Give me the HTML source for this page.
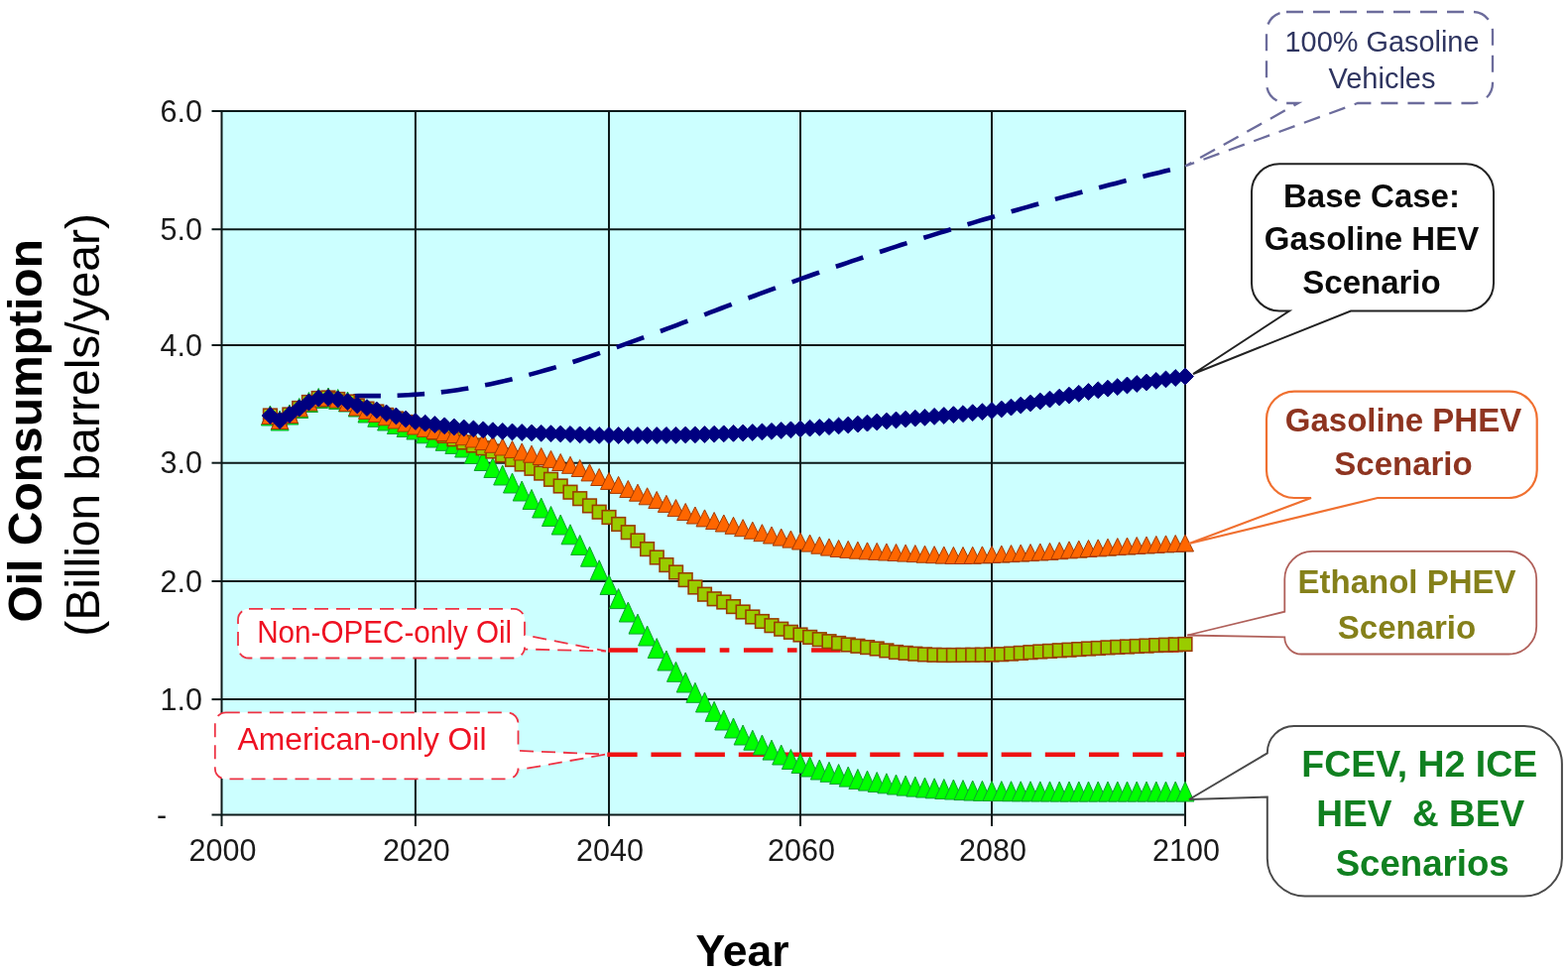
<!DOCTYPE html>
<html><head><meta charset="utf-8"><title>Oil Consumption Scenarios</title>
<style>html,body{margin:0;padding:0;background:#fff;} svg{display:block;}</style>
</head><body>
<svg width="1581" height="982" viewBox="0 0 1581 982">
<rect x="0" y="0" width="1581" height="982" fill="#ffffff"/>
<g>
<rect x="223.5" y="112.0" width="971.5" height="709.5" fill="#ccffff"/>
<line x1="418.9" y1="112.0" x2="418.9" y2="821.5" stroke="#0d1a1a" stroke-width="2"/>
<line x1="614.0" y1="112.0" x2="614.0" y2="821.5" stroke="#0d1a1a" stroke-width="2"/>
<line x1="807.0" y1="112.0" x2="807.0" y2="821.5" stroke="#0d1a1a" stroke-width="2"/>
<line x1="1000.0" y1="112.0" x2="1000.0" y2="821.5" stroke="#0d1a1a" stroke-width="2"/>
<line x1="223.5" y1="231.2" x2="1195.0" y2="231.2" stroke="#0d1a1a" stroke-width="2"/>
<line x1="223.5" y1="348.0" x2="1195.0" y2="348.0" stroke="#0d1a1a" stroke-width="2"/>
<line x1="223.5" y1="466.7" x2="1195.0" y2="466.7" stroke="#0d1a1a" stroke-width="2"/>
<line x1="223.5" y1="586.0" x2="1195.0" y2="586.0" stroke="#0d1a1a" stroke-width="2"/>
<line x1="223.5" y1="705.1" x2="1195.0" y2="705.1" stroke="#0d1a1a" stroke-width="2"/>
<rect x="223.5" y="112.0" width="971.5" height="709.5" fill="none" stroke="#0d1a1a" stroke-width="2"/>
<line x1="213.5" y1="112.0" x2="223.5" y2="112.0" stroke="#0d1a1a" stroke-width="2"/>
<line x1="213.5" y1="231.2" x2="223.5" y2="231.2" stroke="#0d1a1a" stroke-width="2"/>
<line x1="213.5" y1="348.0" x2="223.5" y2="348.0" stroke="#0d1a1a" stroke-width="2"/>
<line x1="213.5" y1="466.7" x2="223.5" y2="466.7" stroke="#0d1a1a" stroke-width="2"/>
<line x1="213.5" y1="586.0" x2="223.5" y2="586.0" stroke="#0d1a1a" stroke-width="2"/>
<line x1="213.5" y1="705.1" x2="223.5" y2="705.1" stroke="#0d1a1a" stroke-width="2"/>
<line x1="213.5" y1="821.5" x2="223.5" y2="821.5" stroke="#0d1a1a" stroke-width="2"/>
<line x1="223.5" y1="821.5" x2="223.5" y2="833" stroke="#0d1a1a" stroke-width="2"/>
<line x1="418.9" y1="821.5" x2="418.9" y2="833" stroke="#0d1a1a" stroke-width="2"/>
<line x1="614.0" y1="821.5" x2="614.0" y2="833" stroke="#0d1a1a" stroke-width="2"/>
<line x1="807.0" y1="821.5" x2="807.0" y2="833" stroke="#0d1a1a" stroke-width="2"/>
<line x1="1000.0" y1="821.5" x2="1000.0" y2="833" stroke="#0d1a1a" stroke-width="2"/>
<line x1="1195.0" y1="821.5" x2="1195.0" y2="833" stroke="#0d1a1a" stroke-width="2"/>
<text x="204" y="122.5" font-family="Liberation Sans, Arial, sans-serif" font-size="30.5" text-anchor="end" fill="#1a1a1a">6.0</text>
<text x="204" y="241.7" font-family="Liberation Sans, Arial, sans-serif" font-size="30.5" text-anchor="end" fill="#1a1a1a">5.0</text>
<text x="204" y="358.5" font-family="Liberation Sans, Arial, sans-serif" font-size="30.5" text-anchor="end" fill="#1a1a1a">4.0</text>
<text x="204" y="477.2" font-family="Liberation Sans, Arial, sans-serif" font-size="30.5" text-anchor="end" fill="#1a1a1a">3.0</text>
<text x="204" y="596.5" font-family="Liberation Sans, Arial, sans-serif" font-size="30.5" text-anchor="end" fill="#1a1a1a">2.0</text>
<text x="204" y="715.6" font-family="Liberation Sans, Arial, sans-serif" font-size="30.5" text-anchor="end" fill="#1a1a1a">1.0</text>
<text x="158" y="832.0" font-family="Liberation Sans, Arial, sans-serif" font-size="30.5" fill="#1a1a1a">-</text>
<text x="224.5" y="868" font-family="Liberation Sans, Arial, sans-serif" font-size="30.5" text-anchor="middle" fill="#1a1a1a">2000</text>
<text x="419.9" y="868" font-family="Liberation Sans, Arial, sans-serif" font-size="30.5" text-anchor="middle" fill="#1a1a1a">2020</text>
<text x="615.0" y="868" font-family="Liberation Sans, Arial, sans-serif" font-size="30.5" text-anchor="middle" fill="#1a1a1a">2040</text>
<text x="808.0" y="868" font-family="Liberation Sans, Arial, sans-serif" font-size="30.5" text-anchor="middle" fill="#1a1a1a">2060</text>
<text x="1001.0" y="868" font-family="Liberation Sans, Arial, sans-serif" font-size="30.5" text-anchor="middle" fill="#1a1a1a">2080</text>
<text x="1196.0" y="868" font-family="Liberation Sans, Arial, sans-serif" font-size="30.5" text-anchor="middle" fill="#1a1a1a">2100</text>
<line x1="613.5" y1="655.5" x2="1195" y2="655.5" stroke="#ee1111" stroke-width="4.5" stroke-dasharray="29.5 14.5 9.7 14.5"/>
<line x1="612.3" y1="760.8" x2="1195" y2="760.8" stroke="#ee1111" stroke-width="4.5" stroke-dasharray="30.3 13.85"/>
<path d="M356.4,399.2 L361.9,399.1 L367.4,399.1 L372.9,399.1 L378.4,399.1 L383.9,399.1 M400.6,398.7 L406.1,398.5 L411.6,398.2 L417.1,397.9 L422.6,397.5 L428.1,397.1 M444.8,395.4 L450.3,394.7 L455.8,394.0 L461.3,393.2 L466.8,392.3 L472.3,391.4 M489.1,388.3 L494.6,387.2 L500.1,386.0 L505.6,384.8 L511.1,383.5 L516.6,382.2 M533.3,377.9 L538.8,376.4 L544.3,374.9 L549.8,373.3 L555.3,371.7 L560.8,370.1 M577.5,365.0 L583.0,363.2 L588.5,361.4 L594.0,359.6 L599.5,357.8 L605.0,355.9 M621.7,350.1 L627.2,348.2 L632.7,346.2 L638.2,344.2 L643.7,342.2 L649.2,340.2 M665.9,334.0 L671.4,331.9 L676.9,329.9 L682.4,327.8 L687.9,325.7 L693.4,323.6 M710.2,317.3 L715.7,315.2 L721.2,313.1 L726.7,311.0 L732.2,308.9 L737.7,306.8 M754.4,300.5 L759.9,298.5 L765.4,296.4 L770.9,294.4 L776.4,292.4 L781.9,290.4 M798.6,284.3 L804.1,282.4 L809.6,280.4 L815.1,278.5 L820.6,276.5 L826.1,274.6 M842.8,268.8 L848.3,267.0 L853.8,265.1 L859.3,263.2 L864.8,261.4 L870.3,259.5 M887.0,254.0 L892.5,252.2 L898.0,250.4 L903.5,248.6 L909.0,246.8 L914.5,245.1 M931.3,239.8 L936.8,238.1 L942.3,236.4 L947.8,234.6 L953.3,233.0 L958.8,231.3 M975.5,226.2 L981.0,224.6 L986.5,222.9 L992.0,221.3 L997.5,219.7 L1003.0,218.1 M1019.7,213.3 L1025.2,211.7 L1030.7,210.1 L1036.2,208.6 L1041.7,207.0 L1047.2,205.5 M1063.9,200.9 L1069.4,199.4 L1074.9,197.9 L1080.4,196.5 L1085.9,195.0 L1091.4,193.5 M1108.1,189.2 L1113.6,187.7 L1119.1,186.3 L1124.6,184.9 L1130.1,183.5 L1135.6,182.1 M1152.4,178.0 L1157.9,176.6 L1163.4,175.3 L1168.9,174.0 L1174.4,172.6 L1179.9,171.3" fill="none" stroke="#000080" stroke-width="4.6"/>
<g fill="#00ff00" stroke="#10a030" stroke-width="1">
<path d="M272.4,409.0 L281.4,429.0 L263.4,429.0 Z"/>
<path d="M282.1,414.0 L291.1,434.0 L273.1,434.0 Z"/>
<path d="M291.9,408.0 L300.9,428.0 L282.9,428.0 Z"/>
<path d="M301.7,401.5 L310.7,421.5 L292.7,421.5 Z"/>
<path d="M311.4,395.5 L320.4,415.5 L302.4,415.5 Z"/>
<path d="M321.2,391.5 L330.2,411.5 L312.2,411.5 Z"/>
<path d="M331.0,391.0 L340.0,411.0 L322.0,411.0 Z"/>
<path d="M340.7,392.5 L349.7,412.5 L331.7,412.5 Z"/>
<path d="M350.5,395.0 L359.5,415.0 L341.5,415.0 Z"/>
<path d="M360.3,400.0 L369.3,420.0 L351.3,420.0 Z"/>
<path d="M370.0,406.0 L379.0,426.0 L361.0,426.0 Z"/>
<path d="M379.8,410.3 L388.8,430.3 L370.8,430.3 Z"/>
<path d="M389.6,414.0 L398.6,434.0 L380.6,434.0 Z"/>
<path d="M399.4,417.5 L408.4,437.5 L390.4,437.5 Z"/>
<path d="M409.1,420.5 L418.1,440.5 L400.1,440.5 Z"/>
<path d="M418.9,423.0 L427.9,443.0 L409.9,443.0 Z"/>
<path d="M428.7,426.8 L437.7,446.8 L419.7,446.8 Z"/>
<path d="M438.4,431.0 L447.4,451.0 L429.4,451.0 Z"/>
<path d="M448.2,434.3 L457.2,454.3 L439.2,454.3 Z"/>
<path d="M457.9,437.4 L466.9,457.4 L448.9,457.4 Z"/>
<path d="M467.7,441.0 L476.7,461.0 L458.7,461.0 Z"/>
<path d="M477.4,447.5 L486.4,467.5 L468.4,467.5 Z"/>
<path d="M487.2,454.5 L496.2,474.5 L478.2,474.5 Z"/>
<path d="M496.9,461.5 L505.9,481.5 L487.9,481.5 Z"/>
<path d="M506.7,469.0 L515.7,489.0 L497.7,489.0 Z"/>
<path d="M516.5,477.0 L525.5,497.0 L507.5,497.0 Z"/>
<path d="M526.2,485.0 L535.2,505.0 L517.2,505.0 Z"/>
<path d="M536.0,493.5 L545.0,513.5 L527.0,513.5 Z"/>
<path d="M545.7,502.0 L554.7,522.0 L536.7,522.0 Z"/>
<path d="M555.5,510.5 L564.5,530.5 L546.5,530.5 Z"/>
<path d="M565.2,519.0 L574.2,539.0 L556.2,539.0 Z"/>
<path d="M575.0,528.8 L584.0,548.8 L566.0,548.8 Z"/>
<path d="M584.7,539.5 L593.7,559.5 L575.7,559.5 Z"/>
<path d="M594.5,551.2 L603.5,571.2 L585.5,571.2 Z"/>
<path d="M604.2,564.8 L613.2,584.8 L595.2,584.8 Z"/>
<path d="M614.0,579.5 L623.0,599.5 L605.0,599.5 Z"/>
<path d="M623.6,593.6 L632.6,613.6 L614.6,613.6 Z"/>
<path d="M633.3,607.0 L642.3,627.0 L624.3,627.0 Z"/>
<path d="M643.0,619.1 L652.0,639.1 L634.0,639.1 Z"/>
<path d="M652.6,631.0 L661.6,651.0 L643.6,651.0 Z"/>
<path d="M662.2,643.6 L671.2,663.6 L653.2,663.6 Z"/>
<path d="M671.9,656.0 L680.9,676.0 L662.9,676.0 Z"/>
<path d="M681.5,667.3 L690.5,687.3 L672.5,687.3 Z"/>
<path d="M691.2,678.0 L700.2,698.0 L682.2,698.0 Z"/>
<path d="M700.9,688.3 L709.9,708.3 L691.9,708.3 Z"/>
<path d="M710.5,698.0 L719.5,718.0 L701.5,718.0 Z"/>
<path d="M720.1,707.3 L729.1,727.3 L711.1,727.3 Z"/>
<path d="M729.8,716.0 L738.8,736.0 L720.8,736.0 Z"/>
<path d="M739.5,724.0 L748.5,744.0 L730.5,744.0 Z"/>
<path d="M749.1,731.0 L758.1,751.0 L740.1,751.0 Z"/>
<path d="M758.8,736.2 L767.8,756.2 L749.8,756.2 Z"/>
<path d="M768.4,741.0 L777.4,761.0 L759.4,761.0 Z"/>
<path d="M778.0,746.1 L787.0,766.1 L769.0,766.1 Z"/>
<path d="M787.7,751.0 L796.7,771.0 L778.7,771.0 Z"/>
<path d="M797.4,755.5 L806.4,775.5 L788.4,775.5 Z"/>
<path d="M807.0,759.5 L816.0,779.5 L798.0,779.5 Z"/>
<path d="M816.6,763.0 L825.6,783.0 L807.6,783.0 Z"/>
<path d="M826.3,766.0 L835.3,786.0 L817.3,786.0 Z"/>
<path d="M836.0,768.3 L845.0,788.3 L827.0,788.3 Z"/>
<path d="M845.6,770.5 L854.6,790.5 L836.6,790.5 Z"/>
<path d="M855.2,773.1 L864.2,793.1 L846.2,793.1 Z"/>
<path d="M864.9,775.5 L873.9,795.5 L855.9,795.5 Z"/>
<path d="M874.5,777.1 L883.5,797.1 L865.5,797.1 Z"/>
<path d="M884.2,778.5 L893.2,798.5 L875.2,798.5 Z"/>
<path d="M893.9,779.8 L902.9,799.8 L884.9,799.8 Z"/>
<path d="M903.5,781.0 L912.5,801.0 L894.5,801.0 Z"/>
<path d="M913.1,782.1 L922.1,802.1 L904.1,802.1 Z"/>
<path d="M922.8,783.1 L931.8,803.1 L913.8,803.1 Z"/>
<path d="M932.5,784.0 L941.5,804.0 L923.5,804.0 Z"/>
<path d="M942.1,784.8 L951.1,804.8 L933.1,804.8 Z"/>
<path d="M951.8,785.5 L960.8,805.5 L942.8,805.5 Z"/>
<path d="M961.4,786.0 L970.4,806.0 L952.4,806.0 Z"/>
<path d="M971.0,786.6 L980.0,806.6 L962.0,806.6 Z"/>
<path d="M980.7,787.0 L989.7,807.0 L971.7,807.0 Z"/>
<path d="M990.4,787.3 L999.4,807.3 L981.4,807.3 Z"/>
<path d="M1000.0,787.5 L1009.0,807.5 L991.0,807.5 Z"/>
<path d="M1009.8,787.6 L1018.8,807.6 L1000.8,807.6 Z"/>
<path d="M1019.5,787.7 L1028.5,807.7 L1010.5,807.7 Z"/>
<path d="M1029.2,787.8 L1038.2,807.8 L1020.2,807.8 Z"/>
<path d="M1039.0,787.8 L1048.0,807.8 L1030.0,807.8 Z"/>
<path d="M1048.8,787.9 L1057.8,807.9 L1039.8,807.9 Z"/>
<path d="M1058.5,787.9 L1067.5,807.9 L1049.5,807.9 Z"/>
<path d="M1068.2,788.0 L1077.2,808.0 L1059.2,808.0 Z"/>
<path d="M1078.0,788.0 L1087.0,808.0 L1069.0,808.0 Z"/>
<path d="M1087.8,788.0 L1096.8,808.0 L1078.8,808.0 Z"/>
<path d="M1097.5,788.0 L1106.5,808.0 L1088.5,808.0 Z"/>
<path d="M1107.2,788.0 L1116.2,808.0 L1098.2,808.0 Z"/>
<path d="M1117.0,788.0 L1126.0,808.0 L1108.0,808.0 Z"/>
<path d="M1126.8,788.0 L1135.8,808.0 L1117.8,808.0 Z"/>
<path d="M1136.5,788.0 L1145.5,808.0 L1127.5,808.0 Z"/>
<path d="M1146.2,788.0 L1155.2,808.0 L1137.2,808.0 Z"/>
<path d="M1156.0,788.0 L1165.0,808.0 L1147.0,808.0 Z"/>
<path d="M1165.8,788.0 L1174.8,808.0 L1156.8,808.0 Z"/>
<path d="M1175.5,788.0 L1184.5,808.0 L1166.5,808.0 Z"/>
<path d="M1185.2,788.0 L1194.2,808.0 L1176.2,808.0 Z"/>
<path d="M1195.0,788.0 L1204.0,808.0 L1186.0,808.0 Z"/>
</g>
<g fill="#99cc00" stroke="#9a3c00" stroke-width="1.6">
<rect x="265.6" y="412.2" width="13.6" height="13.6"/>
<rect x="275.3" y="417.2" width="13.6" height="13.6"/>
<rect x="285.1" y="411.2" width="13.6" height="13.6"/>
<rect x="294.9" y="404.7" width="13.6" height="13.6"/>
<rect x="304.6" y="398.7" width="13.6" height="13.6"/>
<rect x="314.4" y="394.7" width="13.6" height="13.6"/>
<rect x="324.2" y="394.2" width="13.6" height="13.6"/>
<rect x="333.9" y="395.7" width="13.6" height="13.6"/>
<rect x="343.7" y="398.2" width="13.6" height="13.6"/>
<rect x="353.5" y="402.2" width="13.6" height="13.6"/>
<rect x="363.2" y="405.3" width="13.6" height="13.6"/>
<rect x="373.0" y="408.2" width="13.6" height="13.6"/>
<rect x="382.8" y="411.6" width="13.6" height="13.6"/>
<rect x="392.6" y="415.2" width="13.6" height="13.6"/>
<rect x="402.3" y="418.7" width="13.6" height="13.6"/>
<rect x="412.1" y="422.2" width="13.6" height="13.6"/>
<rect x="421.9" y="425.7" width="13.6" height="13.6"/>
<rect x="431.6" y="429.2" width="13.6" height="13.6"/>
<rect x="441.4" y="432.6" width="13.6" height="13.6"/>
<rect x="451.1" y="436.0" width="13.6" height="13.6"/>
<rect x="460.9" y="439.2" width="13.6" height="13.6"/>
<rect x="470.6" y="442.2" width="13.6" height="13.6"/>
<rect x="480.4" y="445.0" width="13.6" height="13.6"/>
<rect x="490.1" y="448.2" width="13.6" height="13.6"/>
<rect x="499.9" y="452.1" width="13.6" height="13.6"/>
<rect x="509.7" y="456.5" width="13.6" height="13.6"/>
<rect x="519.4" y="461.2" width="13.6" height="13.6"/>
<rect x="529.2" y="465.5" width="13.6" height="13.6"/>
<rect x="538.9" y="470.3" width="13.6" height="13.6"/>
<rect x="548.7" y="476.5" width="13.6" height="13.6"/>
<rect x="558.4" y="483.2" width="13.6" height="13.6"/>
<rect x="568.2" y="489.4" width="13.6" height="13.6"/>
<rect x="577.9" y="495.9" width="13.6" height="13.6"/>
<rect x="587.7" y="503.1" width="13.6" height="13.6"/>
<rect x="597.4" y="509.4" width="13.6" height="13.6"/>
<rect x="607.2" y="514.7" width="13.6" height="13.6"/>
<rect x="616.9" y="521.7" width="13.6" height="13.6"/>
<rect x="626.5" y="529.9" width="13.6" height="13.6"/>
<rect x="636.2" y="538.2" width="13.6" height="13.6"/>
<rect x="645.8" y="546.8" width="13.6" height="13.6"/>
<rect x="655.5" y="555.2" width="13.6" height="13.6"/>
<rect x="665.1" y="562.8" width="13.6" height="13.6"/>
<rect x="674.8" y="570.2" width="13.6" height="13.6"/>
<rect x="684.4" y="577.8" width="13.6" height="13.6"/>
<rect x="694.1" y="585.2" width="13.6" height="13.6"/>
<rect x="703.7" y="592.4" width="13.6" height="13.6"/>
<rect x="713.4" y="597.0" width="13.6" height="13.6"/>
<rect x="723.0" y="600.2" width="13.6" height="13.6"/>
<rect x="732.7" y="604.8" width="13.6" height="13.6"/>
<rect x="742.3" y="610.2" width="13.6" height="13.6"/>
<rect x="752.0" y="615.2" width="13.6" height="13.6"/>
<rect x="761.6" y="619.7" width="13.6" height="13.6"/>
<rect x="771.2" y="623.9" width="13.6" height="13.6"/>
<rect x="780.9" y="627.4" width="13.6" height="13.6"/>
<rect x="790.6" y="630.5" width="13.6" height="13.6"/>
<rect x="800.2" y="633.2" width="13.6" height="13.6"/>
<rect x="809.9" y="635.6" width="13.6" height="13.6"/>
<rect x="819.5" y="637.9" width="13.6" height="13.6"/>
<rect x="829.2" y="639.9" width="13.6" height="13.6"/>
<rect x="838.8" y="641.7" width="13.6" height="13.6"/>
<rect x="848.5" y="643.2" width="13.6" height="13.6"/>
<rect x="858.1" y="644.5" width="13.6" height="13.6"/>
<rect x="867.8" y="645.8" width="13.6" height="13.6"/>
<rect x="877.4" y="647.2" width="13.6" height="13.6"/>
<rect x="887.1" y="649.1" width="13.6" height="13.6"/>
<rect x="896.7" y="650.7" width="13.6" height="13.6"/>
<rect x="906.4" y="651.6" width="13.6" height="13.6"/>
<rect x="916.0" y="652.4" width="13.6" height="13.6"/>
<rect x="925.7" y="653.1" width="13.6" height="13.6"/>
<rect x="935.3" y="653.5" width="13.6" height="13.6"/>
<rect x="945.0" y="653.7" width="13.6" height="13.6"/>
<rect x="954.6" y="653.7" width="13.6" height="13.6"/>
<rect x="964.2" y="653.6" width="13.6" height="13.6"/>
<rect x="973.9" y="653.5" width="13.6" height="13.6"/>
<rect x="983.6" y="653.4" width="13.6" height="13.6"/>
<rect x="993.2" y="653.2" width="13.6" height="13.6"/>
<rect x="1003.0" y="652.9" width="13.6" height="13.6"/>
<rect x="1012.7" y="652.3" width="13.6" height="13.6"/>
<rect x="1022.5" y="651.6" width="13.6" height="13.6"/>
<rect x="1032.2" y="650.9" width="13.6" height="13.6"/>
<rect x="1042.0" y="650.2" width="13.6" height="13.6"/>
<rect x="1051.7" y="649.6" width="13.6" height="13.6"/>
<rect x="1061.5" y="649.0" width="13.6" height="13.6"/>
<rect x="1071.2" y="648.4" width="13.6" height="13.6"/>
<rect x="1081.0" y="647.8" width="13.6" height="13.6"/>
<rect x="1090.7" y="647.2" width="13.6" height="13.6"/>
<rect x="1100.5" y="646.7" width="13.6" height="13.6"/>
<rect x="1110.2" y="646.1" width="13.6" height="13.6"/>
<rect x="1120.0" y="645.6" width="13.6" height="13.6"/>
<rect x="1129.7" y="645.2" width="13.6" height="13.6"/>
<rect x="1139.5" y="644.7" width="13.6" height="13.6"/>
<rect x="1149.2" y="644.3" width="13.6" height="13.6"/>
<rect x="1159.0" y="643.8" width="13.6" height="13.6"/>
<rect x="1168.7" y="643.4" width="13.6" height="13.6"/>
<rect x="1178.5" y="643.1" width="13.6" height="13.6"/>
<rect x="1188.2" y="642.7" width="13.6" height="13.6"/>
</g>
<g fill="#ff6600" stroke="#a33a00" stroke-width="1">
<path d="M272.4,410.5 L280.9,427.5 L263.9,427.5 Z"/>
<path d="M282.1,415.5 L290.6,432.5 L273.6,432.5 Z"/>
<path d="M291.9,409.5 L300.4,426.5 L283.4,426.5 Z"/>
<path d="M301.7,403.0 L310.2,420.0 L293.2,420.0 Z"/>
<path d="M311.4,397.0 L319.9,414.0 L302.9,414.0 Z"/>
<path d="M321.2,393.0 L329.7,410.0 L312.7,410.0 Z"/>
<path d="M331.0,392.5 L339.5,409.5 L322.5,409.5 Z"/>
<path d="M340.7,394.0 L349.2,411.0 L332.2,411.0 Z"/>
<path d="M350.5,397.5 L359.0,414.5 L342.0,414.5 Z"/>
<path d="M360.3,402.0 L368.8,419.0 L351.8,419.0 Z"/>
<path d="M370.0,405.4 L378.5,422.4 L361.5,422.4 Z"/>
<path d="M379.8,408.5 L388.3,425.5 L371.3,425.5 Z"/>
<path d="M389.6,411.8 L398.1,428.8 L381.1,428.8 Z"/>
<path d="M399.4,415.0 L407.9,432.0 L390.9,432.0 Z"/>
<path d="M409.1,418.1 L417.6,435.1 L400.6,435.1 Z"/>
<path d="M418.9,421.0 L427.4,438.0 L410.4,438.0 Z"/>
<path d="M428.7,423.4 L437.2,440.4 L420.2,440.4 Z"/>
<path d="M438.4,425.5 L446.9,442.5 L429.9,442.5 Z"/>
<path d="M448.2,427.5 L456.7,444.5 L439.7,444.5 Z"/>
<path d="M457.9,429.5 L466.4,446.5 L449.4,446.5 Z"/>
<path d="M467.7,431.7 L476.2,448.7 L459.2,448.7 Z"/>
<path d="M477.4,434.0 L485.9,451.0 L468.9,451.0 Z"/>
<path d="M487.2,436.6 L495.7,453.6 L478.7,453.6 Z"/>
<path d="M496.9,439.3 L505.4,456.3 L488.4,456.3 Z"/>
<path d="M506.7,442.0 L515.2,459.0 L498.2,459.0 Z"/>
<path d="M516.5,444.6 L525.0,461.6 L508.0,461.6 Z"/>
<path d="M526.2,447.0 L534.7,464.0 L517.7,464.0 Z"/>
<path d="M536.0,449.2 L544.5,466.2 L527.5,466.2 Z"/>
<path d="M545.7,451.5 L554.2,468.5 L537.2,468.5 Z"/>
<path d="M555.5,454.4 L564.0,471.4 L547.0,471.4 Z"/>
<path d="M565.2,457.5 L573.7,474.5 L556.7,474.5 Z"/>
<path d="M575.0,460.3 L583.5,477.3 L566.5,477.3 Z"/>
<path d="M584.7,463.5 L593.2,480.5 L576.2,480.5 Z"/>
<path d="M594.5,467.9 L603.0,484.9 L586.0,484.9 Z"/>
<path d="M604.2,472.5 L612.7,489.5 L595.7,489.5 Z"/>
<path d="M614.0,476.4 L622.5,493.4 L605.5,493.4 Z"/>
<path d="M623.6,480.4 L632.1,497.4 L615.1,497.4 Z"/>
<path d="M633.3,484.5 L641.8,501.5 L624.8,501.5 Z"/>
<path d="M643.0,488.2 L651.5,505.2 L634.5,505.2 Z"/>
<path d="M652.6,491.8 L661.1,508.8 L644.1,508.8 Z"/>
<path d="M662.2,495.5 L670.8,512.5 L653.8,512.5 Z"/>
<path d="M671.9,499.4 L680.4,516.4 L663.4,516.4 Z"/>
<path d="M681.5,503.6 L690.0,520.6 L673.0,520.6 Z"/>
<path d="M691.2,507.5 L699.7,524.5 L682.7,524.5 Z"/>
<path d="M700.9,511.0 L709.4,528.0 L692.4,528.0 Z"/>
<path d="M710.5,513.9 L719.0,530.9 L702.0,530.9 Z"/>
<path d="M720.1,516.5 L728.6,533.5 L711.6,533.5 Z"/>
<path d="M729.8,519.0 L738.3,536.0 L721.3,536.0 Z"/>
<path d="M739.5,521.3 L748.0,538.3 L731.0,538.3 Z"/>
<path d="M749.1,523.7 L757.6,540.7 L740.6,540.7 Z"/>
<path d="M758.8,526.2 L767.2,543.2 L750.2,543.2 Z"/>
<path d="M768.4,528.7 L776.9,545.7 L759.9,545.7 Z"/>
<path d="M778.0,531.0 L786.5,548.0 L769.5,548.0 Z"/>
<path d="M787.7,533.1 L796.2,550.1 L779.2,550.1 Z"/>
<path d="M797.4,535.1 L805.9,552.1 L788.9,552.1 Z"/>
<path d="M807.0,537.0 L815.5,554.0 L798.5,554.0 Z"/>
<path d="M816.6,539.1 L825.1,556.1 L808.1,556.1 Z"/>
<path d="M826.3,541.2 L834.8,558.2 L817.8,558.2 Z"/>
<path d="M836.0,543.1 L844.5,560.1 L827.5,560.1 Z"/>
<path d="M845.6,544.5 L854.1,561.5 L837.1,561.5 Z"/>
<path d="M855.2,545.4 L863.8,562.4 L846.8,562.4 Z"/>
<path d="M864.9,546.2 L873.4,563.2 L856.4,563.2 Z"/>
<path d="M874.5,546.9 L883.0,563.9 L866.0,563.9 Z"/>
<path d="M884.2,547.4 L892.7,564.4 L875.7,564.4 Z"/>
<path d="M893.9,548.0 L902.4,565.0 L885.4,565.0 Z"/>
<path d="M903.5,548.5 L912.0,565.5 L895.0,565.5 Z"/>
<path d="M913.1,549.1 L921.6,566.1 L904.6,566.1 Z"/>
<path d="M922.8,549.6 L931.3,566.6 L914.3,566.6 Z"/>
<path d="M932.5,550.2 L941.0,567.2 L924.0,567.2 Z"/>
<path d="M942.1,550.7 L950.6,567.7 L933.6,567.7 Z"/>
<path d="M951.8,551.1 L960.2,568.1 L943.2,568.1 Z"/>
<path d="M961.4,551.4 L969.9,568.4 L952.9,568.4 Z"/>
<path d="M971.0,551.5 L979.5,568.5 L962.5,568.5 Z"/>
<path d="M980.7,551.3 L989.2,568.3 L972.2,568.3 Z"/>
<path d="M990.4,550.9 L998.9,567.9 L981.9,567.9 Z"/>
<path d="M1000.0,550.5 L1008.5,567.5 L991.5,567.5 Z"/>
<path d="M1009.8,550.1 L1018.2,567.1 L1001.2,567.1 Z"/>
<path d="M1019.5,549.6 L1028.0,566.6 L1011.0,566.6 Z"/>
<path d="M1029.2,549.1 L1037.8,566.1 L1020.8,566.1 Z"/>
<path d="M1039.0,548.6 L1047.5,565.6 L1030.5,565.6 Z"/>
<path d="M1048.8,548.0 L1057.2,565.0 L1040.2,565.0 Z"/>
<path d="M1058.5,547.4 L1067.0,564.4 L1050.0,564.4 Z"/>
<path d="M1068.2,546.7 L1076.8,563.7 L1059.8,563.7 Z"/>
<path d="M1078.0,545.9 L1086.5,562.9 L1069.5,562.9 Z"/>
<path d="M1087.8,545.2 L1096.2,562.2 L1079.2,562.2 Z"/>
<path d="M1097.5,544.5 L1106.0,561.5 L1089.0,561.5 Z"/>
<path d="M1107.2,543.9 L1115.8,560.9 L1098.8,560.9 Z"/>
<path d="M1117.0,543.2 L1125.5,560.2 L1108.5,560.2 Z"/>
<path d="M1126.8,542.6 L1135.2,559.6 L1118.2,559.6 Z"/>
<path d="M1136.5,542.1 L1145.0,559.1 L1128.0,559.1 Z"/>
<path d="M1146.2,541.5 L1154.8,558.5 L1137.8,558.5 Z"/>
<path d="M1156.0,541.0 L1164.5,558.0 L1147.5,558.0 Z"/>
<path d="M1165.8,540.4 L1174.2,557.4 L1157.2,557.4 Z"/>
<path d="M1175.5,539.9 L1184.0,556.9 L1167.0,556.9 Z"/>
<path d="M1185.2,539.5 L1193.8,556.5 L1176.8,556.5 Z"/>
<path d="M1195.0,539.0 L1203.5,556.0 L1186.5,556.0 Z"/>
</g>
<g fill="#000080" stroke="#000080" stroke-width="1">
<path d="M272.4,410.6 L280.8,419.0 L272.4,427.4 L264.0,419.0 Z"/>
<path d="M282.1,415.6 L290.5,424.0 L282.1,432.4 L273.7,424.0 Z"/>
<path d="M291.9,409.6 L300.3,418.0 L291.9,426.4 L283.5,418.0 Z"/>
<path d="M301.7,403.1 L310.1,411.5 L301.7,419.9 L293.3,411.5 Z"/>
<path d="M311.4,397.1 L319.8,405.5 L311.4,413.9 L303.0,405.5 Z"/>
<path d="M321.2,393.1 L329.6,401.5 L321.2,409.9 L312.8,401.5 Z"/>
<path d="M331.0,392.6 L339.4,401.0 L331.0,409.4 L322.6,401.0 Z"/>
<path d="M340.7,394.1 L349.1,402.5 L340.7,410.9 L332.3,402.5 Z"/>
<path d="M350.5,396.6 L358.9,405.0 L350.5,413.4 L342.1,405.0 Z"/>
<path d="M360.3,400.1 L368.7,408.5 L360.3,416.9 L351.9,408.5 Z"/>
<path d="M370.0,402.7 L378.4,411.1 L370.0,419.5 L361.6,411.1 Z"/>
<path d="M379.8,405.1 L388.2,413.5 L379.8,421.9 L371.4,413.5 Z"/>
<path d="M389.6,408.1 L398.0,416.5 L389.6,424.9 L381.2,416.5 Z"/>
<path d="M399.4,411.1 L407.8,419.5 L399.4,427.9 L391.0,419.5 Z"/>
<path d="M409.1,414.1 L417.5,422.5 L409.1,430.9 L400.7,422.5 Z"/>
<path d="M418.9,416.6 L427.3,425.0 L418.9,433.4 L410.5,425.0 Z"/>
<path d="M428.7,418.3 L437.1,426.7 L428.7,435.1 L420.3,426.7 Z"/>
<path d="M438.4,419.6 L446.8,428.0 L438.4,436.4 L430.0,428.0 Z"/>
<path d="M448.2,420.9 L456.6,429.3 L448.2,437.7 L439.8,429.3 Z"/>
<path d="M457.9,422.1 L466.3,430.5 L457.9,438.9 L449.5,430.5 Z"/>
<path d="M467.7,423.1 L476.1,431.5 L467.7,439.9 L459.3,431.5 Z"/>
<path d="M477.4,424.0 L485.8,432.4 L477.4,440.8 L469.0,432.4 Z"/>
<path d="M487.2,424.9 L495.6,433.3 L487.2,441.7 L478.8,433.3 Z"/>
<path d="M496.9,425.8 L505.3,434.2 L496.9,442.6 L488.5,434.2 Z"/>
<path d="M506.7,426.5 L515.1,434.9 L506.7,443.3 L498.3,434.9 Z"/>
<path d="M516.5,427.1 L524.9,435.5 L516.5,443.9 L508.1,435.5 Z"/>
<path d="M526.2,427.6 L534.6,436.0 L526.2,444.4 L517.8,436.0 Z"/>
<path d="M536.0,428.0 L544.4,436.4 L536.0,444.8 L527.6,436.4 Z"/>
<path d="M545.7,428.4 L554.1,436.8 L545.7,445.2 L537.3,436.8 Z"/>
<path d="M555.5,428.8 L563.9,437.2 L555.5,445.6 L547.1,437.2 Z"/>
<path d="M565.2,429.1 L573.6,437.5 L565.2,445.9 L556.8,437.5 Z"/>
<path d="M575.0,429.5 L583.4,437.9 L575.0,446.3 L566.6,437.9 Z"/>
<path d="M584.7,429.9 L593.1,438.3 L584.7,446.7 L576.3,438.3 Z"/>
<path d="M594.5,430.2 L602.9,438.6 L594.5,447.0 L586.1,438.6 Z"/>
<path d="M604.2,430.5 L612.6,438.9 L604.2,447.3 L595.8,438.9 Z"/>
<path d="M614.0,430.6 L622.4,439.0 L614.0,447.4 L605.6,439.0 Z"/>
<path d="M623.6,430.6 L632.0,439.0 L623.6,447.4 L615.2,439.0 Z"/>
<path d="M633.3,430.6 L641.7,439.0 L633.3,447.4 L624.9,439.0 Z"/>
<path d="M643.0,430.6 L651.4,439.0 L643.0,447.4 L634.6,439.0 Z"/>
<path d="M652.6,430.6 L661.0,439.0 L652.6,447.4 L644.2,439.0 Z"/>
<path d="M662.2,430.6 L670.6,439.0 L662.2,447.4 L653.9,439.0 Z"/>
<path d="M671.9,430.5 L680.3,438.9 L671.9,447.3 L663.5,438.9 Z"/>
<path d="M681.5,430.4 L689.9,438.8 L681.5,447.2 L673.1,438.8 Z"/>
<path d="M691.2,430.1 L699.6,438.5 L691.2,446.9 L682.8,438.5 Z"/>
<path d="M700.9,429.9 L709.2,438.3 L700.9,446.7 L692.5,438.3 Z"/>
<path d="M710.5,429.6 L718.9,438.0 L710.5,446.4 L702.1,438.0 Z"/>
<path d="M720.1,429.3 L728.5,437.7 L720.1,446.1 L711.8,437.7 Z"/>
<path d="M729.8,428.9 L738.2,437.3 L729.8,445.7 L721.4,437.3 Z"/>
<path d="M739.5,428.5 L747.9,436.9 L739.5,445.3 L731.1,436.9 Z"/>
<path d="M749.1,428.1 L757.5,436.5 L749.1,444.9 L740.7,436.5 Z"/>
<path d="M758.8,427.6 L767.1,436.0 L758.8,444.4 L750.4,436.0 Z"/>
<path d="M768.4,427.0 L776.8,435.4 L768.4,443.8 L760.0,435.4 Z"/>
<path d="M778.0,426.4 L786.4,434.8 L778.0,443.2 L769.6,434.8 Z"/>
<path d="M787.7,425.6 L796.1,434.0 L787.7,442.4 L779.3,434.0 Z"/>
<path d="M797.4,424.9 L805.8,433.3 L797.4,441.7 L789.0,433.3 Z"/>
<path d="M807.0,424.1 L815.4,432.5 L807.0,440.9 L798.6,432.5 Z"/>
<path d="M816.6,423.3 L825.0,431.7 L816.6,440.1 L808.2,431.7 Z"/>
<path d="M826.3,422.6 L834.7,431.0 L826.3,439.4 L817.9,431.0 Z"/>
<path d="M836.0,421.8 L844.4,430.2 L836.0,438.6 L827.6,430.2 Z"/>
<path d="M845.6,421.0 L854.0,429.4 L845.6,437.8 L837.2,429.4 Z"/>
<path d="M855.2,420.1 L863.6,428.5 L855.2,436.9 L846.9,428.5 Z"/>
<path d="M864.9,419.2 L873.3,427.6 L864.9,436.0 L856.5,427.6 Z"/>
<path d="M874.5,418.2 L882.9,426.6 L874.5,435.0 L866.1,426.6 Z"/>
<path d="M884.2,417.1 L892.6,425.5 L884.2,433.9 L875.8,425.5 Z"/>
<path d="M893.9,416.1 L902.2,424.5 L893.9,432.9 L885.5,424.5 Z"/>
<path d="M903.5,415.1 L911.9,423.5 L903.5,431.9 L895.1,423.5 Z"/>
<path d="M913.1,414.2 L921.5,422.6 L913.1,431.0 L904.8,422.6 Z"/>
<path d="M922.8,413.3 L931.2,421.7 L922.8,430.1 L914.4,421.7 Z"/>
<path d="M932.5,412.4 L940.9,420.8 L932.5,429.2 L924.1,420.8 Z"/>
<path d="M942.1,411.5 L950.5,419.9 L942.1,428.3 L933.7,419.9 Z"/>
<path d="M951.8,410.6 L960.1,419.0 L951.8,427.4 L943.4,419.0 Z"/>
<path d="M961.4,409.7 L969.8,418.1 L961.4,426.5 L953.0,418.1 Z"/>
<path d="M971.0,408.8 L979.4,417.2 L971.0,425.6 L962.6,417.2 Z"/>
<path d="M980.7,407.8 L989.1,416.2 L980.7,424.6 L972.3,416.2 Z"/>
<path d="M990.4,406.8 L998.8,415.2 L990.4,423.6 L982.0,415.2 Z"/>
<path d="M1000.0,405.6 L1008.4,414.0 L1000.0,422.4 L991.6,414.0 Z"/>
<path d="M1009.8,404.1 L1018.1,412.5 L1009.8,420.9 L1001.4,412.5 Z"/>
<path d="M1019.5,402.2 L1027.9,410.6 L1019.5,419.0 L1011.1,410.6 Z"/>
<path d="M1029.2,400.2 L1037.7,408.6 L1029.2,417.0 L1020.9,408.6 Z"/>
<path d="M1039.0,398.1 L1047.4,406.5 L1039.0,414.9 L1030.6,406.5 Z"/>
<path d="M1048.8,396.1 L1057.2,404.5 L1048.8,412.9 L1040.3,404.5 Z"/>
<path d="M1058.5,394.2 L1066.9,402.6 L1058.5,411.0 L1050.1,402.6 Z"/>
<path d="M1068.2,392.2 L1076.7,400.6 L1068.2,409.0 L1059.8,400.6 Z"/>
<path d="M1078.0,390.3 L1086.4,398.7 L1078.0,407.1 L1069.6,398.7 Z"/>
<path d="M1087.8,388.4 L1096.2,396.8 L1087.8,405.2 L1079.3,396.8 Z"/>
<path d="M1097.5,386.6 L1105.9,395.0 L1097.5,403.4 L1089.1,395.0 Z"/>
<path d="M1107.2,384.9 L1115.7,393.3 L1107.2,401.7 L1098.8,393.3 Z"/>
<path d="M1117.0,383.3 L1125.4,391.7 L1117.0,400.1 L1108.6,391.7 Z"/>
<path d="M1126.8,381.7 L1135.2,390.1 L1126.8,398.5 L1118.3,390.1 Z"/>
<path d="M1136.5,380.1 L1144.9,388.5 L1136.5,396.9 L1128.1,388.5 Z"/>
<path d="M1146.2,378.6 L1154.7,387.0 L1146.2,395.4 L1137.8,387.0 Z"/>
<path d="M1156.0,377.1 L1164.4,385.5 L1156.0,393.9 L1147.6,385.5 Z"/>
<path d="M1165.8,375.5 L1174.2,383.9 L1165.8,392.3 L1157.3,383.9 Z"/>
<path d="M1175.5,374.0 L1183.9,382.4 L1175.5,390.8 L1167.1,382.4 Z"/>
<path d="M1185.2,372.6 L1193.7,381.0 L1185.2,389.4 L1176.8,381.0 Z"/>
<path d="M1195.0,371.1 L1203.4,379.5 L1195.0,387.9 L1186.6,379.5 Z"/>
</g>
<path d="M251,613.8 H518 A11,11 0 0 1 529,624.8 V640.2 L611,656.5 L529,654.5 V652.5 A11,11 0 0 1 518,663.5 H251 A11,11 0 0 1 240,652.5 V624.8 A11,11 0 0 1 251,613.8 Z" fill="#ffffff" stroke="#ee3344" stroke-width="1.8" stroke-dasharray="14 8"/>
<text x="387.7" y="648.3" font-family="Liberation Sans, Arial, sans-serif" font-size="31" text-anchor="middle" fill="#ee1122" textLength="257" lengthAdjust="spacingAndGlyphs">Non-OPEC-only Oil</text>
<path d="M227.8,718.3 H511.5 A11,11 0 0 1 522.5,729.3 V756.9 L611,760.5 L522.5,776.3 V774.4 A11,11 0 0 1 511.5,785.4 H227.8 A11,11 0 0 1 216.8,774.4 V729.3 A11,11 0 0 1 227.8,718.3 Z" fill="#ffffff" stroke="#ee3344" stroke-width="1.8" stroke-dasharray="14 8"/>
<text x="365" y="756" font-family="Liberation Sans, Arial, sans-serif" font-size="31" text-anchor="middle" fill="#ee1122" textLength="251" lengthAdjust="spacingAndGlyphs">American-only Oil</text>
<path d="M1297,12 H1485 A20,20 0 0 1 1505,32 V84 A20,20 0 0 1 1485,104 H1369 L1195,167.5 L1309,104 H1297 A20,20 0 0 1 1277,84 V32 A20,20 0 0 1 1297,12 Z" fill="#ffffff" stroke="#6c6c9c" stroke-width="2.3" stroke-dasharray="17 10"/>
<text x="1393.5" y="51.6" font-family="Liberation Sans, Arial, sans-serif" font-size="29" text-anchor="middle" fill="#2f3560" textLength="196" lengthAdjust="spacingAndGlyphs">100% Gasoline</text>
<text x="1393.5" y="89.2" font-family="Liberation Sans, Arial, sans-serif" font-size="29" text-anchor="middle" fill="#2f3560">Vehicles</text>
<path d="M1290,165.3 H1478 A28,28 0 0 1 1506,193.3 V285.5 A28,28 0 0 1 1478,313.5 H1362 L1203,377 L1300,313.5 H1290 A28,28 0 0 1 1262,285.5 V193.3 A28,28 0 0 1 1290,165.3 Z" fill="#ffffff" stroke="#222222" stroke-width="2"/>
<text x="1383" y="208.7" font-family="Liberation Sans, Arial, sans-serif" font-weight="bold" font-size="33" text-anchor="middle" fill="#0a0a0a">Base Case:</text>
<text x="1383" y="252.2" font-family="Liberation Sans, Arial, sans-serif" font-weight="bold" font-size="33" text-anchor="middle" fill="#0a0a0a">Gasoline HEV</text>
<text x="1383" y="295.7" font-family="Liberation Sans, Arial, sans-serif" font-weight="bold" font-size="33" text-anchor="middle" fill="#0a0a0a">Scenario</text>
<path d="M1305,394.6 H1521.7 A28,28 0 0 1 1549.7,422.6 V474 A28,28 0 0 1 1521.7,502 H1389 L1199,548 L1322,502 H1305 A28,28 0 0 1 1277,474 V422.6 A28,28 0 0 1 1305,394.6 Z" fill="#ffffff" stroke="#f07030" stroke-width="2.2"/>
<text x="1415" y="434.9" font-family="Liberation Sans, Arial, sans-serif" font-weight="bold" font-size="33" text-anchor="middle" fill="#8e3420">Gasoline PHEV</text>
<text x="1415" y="479" font-family="Liberation Sans, Arial, sans-serif" font-weight="bold" font-size="33" text-anchor="middle" fill="#8e3420">Scenario</text>
<path d="M1323.3,555.9 H1521.2 A28,28 0 0 1 1549.2,583.9 V631.5 A28,28 0 0 1 1521.2,659.5 H1312.3 A17,17 0 0 1 1295.3,642.5 V642.4 L1197,640.5 L1295.3,616.7 V583.9 A28,28 0 0 1 1323.3,555.9 Z" fill="#ffffff" stroke="#b0605a" stroke-width="1.8"/>
<text x="1418.5" y="598" font-family="Liberation Sans, Arial, sans-serif" font-weight="bold" font-size="33" text-anchor="middle" fill="#85801a">Ethanol PHEV</text>
<text x="1418.5" y="643.6" font-family="Liberation Sans, Arial, sans-serif" font-weight="bold" font-size="33" text-anchor="middle" fill="#85801a">Scenario</text>
<path d="M1304.8,732 H1536.9 A38,38 0 0 1 1574.9,770 V865.5 A38,38 0 0 1 1536.9,903.5 H1315.8 A38,38 0 0 1 1277.8,865.5 V803.5 L1199,806 L1277.8,759.4 V759 A27,27 0 0 1 1304.8,732 Z" fill="#ffffff" stroke="#4a4a4a" stroke-width="2"/>
<text x="1431.3" y="782.9" font-family="Liberation Sans, Arial, sans-serif" font-weight="bold" font-size="36.5" text-anchor="middle" fill="#108020" textLength="238" lengthAdjust="spacingAndGlyphs">FCEV, H2 ICE</text>
<text x="1432.2" y="833" font-family="Liberation Sans, Arial, sans-serif" font-weight="bold" font-size="36.5" text-anchor="middle" fill="#108020" xml:space="preserve" style="white-space:pre" textLength="210" lengthAdjust="spacingAndGlyphs">HEV  &amp; BEV</text>
<text x="1434.2" y="883" font-family="Liberation Sans, Arial, sans-serif" font-weight="bold" font-size="36.5" text-anchor="middle" fill="#108020" textLength="175" lengthAdjust="spacingAndGlyphs">Scenarios</text>
<text transform="translate(42,434.3) rotate(-90)" font-family="Liberation Sans, Arial, sans-serif" font-weight="bold" font-size="48" text-anchor="middle" fill="#000">Oil Consumption</text>
<text transform="translate(99.5,428.4) rotate(-90)" font-family="Liberation Sans, Arial, sans-serif" font-size="48" text-anchor="middle" fill="#000">(Billion barrels/year)</text>
<text x="748.5" y="974" font-family="Liberation Sans, Arial, sans-serif" font-weight="bold" font-size="45" text-anchor="middle" fill="#000" textLength="94" lengthAdjust="spacingAndGlyphs">Year</text>
</g>
</svg>
</body></html>
